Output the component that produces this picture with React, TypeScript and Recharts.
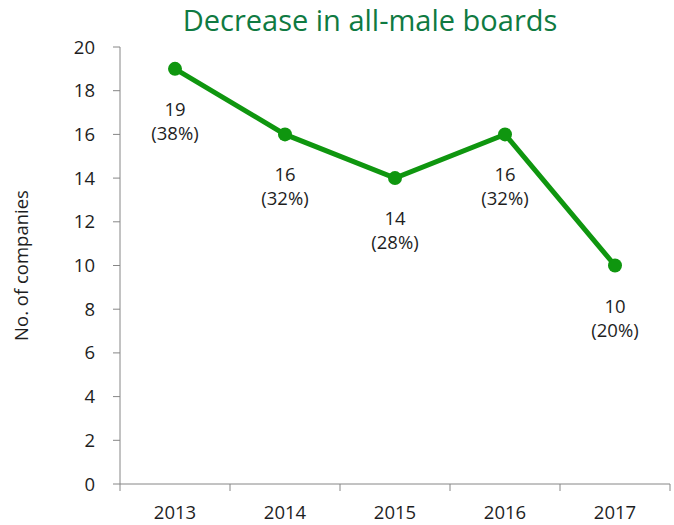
import * as React from "react";
import { LabelList, Line, LineChart, XAxis, YAxis } from "recharts";

const years = ["2013", "2014", "2015", "2016", "2017"];
const companies = [19, 16, 14, 16, 10];
const shares = [38, 32, 28, 32, 20];
const yTicks = [0, 2, 4, 6, 8, 10, 12, 14, 16, 18, 20];

const data = years.map((year, i) => ({
    year,
    companies: companies[i],
    share: shares[i],
}));

const FONT = "'Open Sans', 'Noto Sans', sans-serif";
const TEXT = "#1e1e1e";
const AXIS = "#868686";
const GREEN = "#0f960f";
const PLOT_W = 550;
const HALF_STEP = PLOT_W / years.length / 2;

const YearTick = (props: any) => {
    const { x, y, payload, index } = props;
    return (
        <g>
            <line x1={x - HALF_STEP} x2={x - HALF_STEP} y1={y} y2={y + 7} stroke={AXIS} />
            {index === years.length - 1 && (
                <line x1={x + HALF_STEP} x2={x + HALF_STEP} y1={y} y2={y + 7} stroke={AXIS} />
            )}
            <text x={x} y={y + 35} textAnchor="middle" fill={TEXT} fontSize={18.5} fontFamily={FONT}>
                {payload.value}
            </text>
        </g>
    );
};

const PointLabel = (props: any) => {
    const { x, y, index } = props;
    return (
        <text textAnchor="middle" fill={TEXT} fontSize={18.5} fontFamily={FONT}>
            <tspan x={x} y={y + 47}>{companies[index]}</tspan>
            <tspan x={x} y={y + 71}>({shares[index]}%)</tspan>
        </text>
    );
};

export default function App() {
    return (
        <div style={{ position: "absolute", left: 0, top: 0, width: 674, height: 525, background: "#fff" }}>
            <div
                style={{
                    position: "absolute",
                    left: 120,
                    width: 500,
                    top: 0,
                    textAlign: "center",
                    fontFamily: FONT,
                    fontSize: 29,
                    lineHeight: "40px",
                    color: "#0f7a42",
                }}
            >
                Decrease in all-male boards
            </div>
            <LineChart
                width={674}
                height={525}
                data={data}
                margin={{ top: 47, right: 4, bottom: 0, left: 0 }}
            >
                <XAxis
                    dataKey="year"
                    height={41}
                    padding={{ left: HALF_STEP, right: HALF_STEP }}
                    stroke={AXIS}
                    tickLine={false}
                    tickSize={0}
                    tickMargin={0}
                    tick={<YearTick />}
                    interval={0}
                />
                <YAxis
                    width={120}
                    domain={[0, 20]}
                    ticks={yTicks}
                    interval={0}
                    stroke={AXIS}
                    tickSize={7}
                    tickMargin={18}
                    tick={{ fill: TEXT, fontSize: 18.5, fontFamily: FONT }}
                    label={{
                        value: "No. of companies",
                        angle: -90,
                        position: "insideLeft",
                        offset: 21,
                        style: { textAnchor: "middle", fill: TEXT, fontSize: 18.5, fontFamily: FONT },
                    }}
                />
                <Line
                    dataKey="companies"
                    stroke={GREEN}
                    strokeWidth={5}
                    dot={{ r: 7, fill: GREEN, stroke: GREEN, strokeWidth: 0 }}
                    activeDot={false}
                    isAnimationActive={false}
                >
                    <LabelList dataKey="companies" content={<PointLabel />} />
                </Line>
            </LineChart>
        </div>
    );
}
